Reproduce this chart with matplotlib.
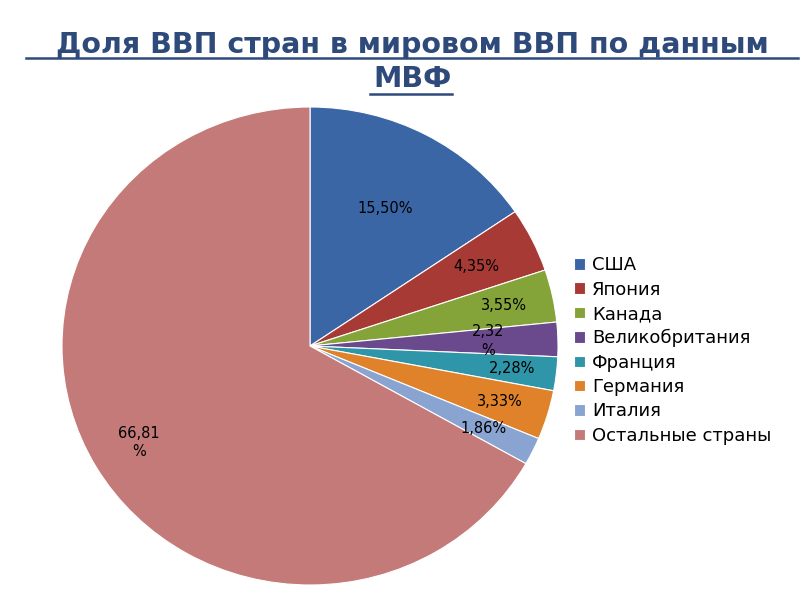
import matplotlib
matplotlib.use("Agg")
import matplotlib.pyplot as plt
import numpy as np

countries = ["США", "Япония", "Канада", "Великобритания", "Франция", "Германия", "Италия", "Остальные страны"]
shares = [15.50, 4.35, 3.55, 2.32, 2.28, 3.33, 1.86, 66.81]
labels = ["15,50%", "4,35%", "3,55%", "2,32\n%", "2,28%", "3,33%", "1,86%", "66,81\n%"]
colors = ["#3a66a6", "#a83a36", "#84a43a", "#6a4a8c", "#2e96a8", "#e0822a", "#8aa4d2", "#c47a78"]

plt.rcParams['font.family'] = ['DejaVu Sans']
fig = plt.figure(figsize=(8, 6), dpi=100)
ax = fig.add_axes([62/800, 15/600, 496/800, 478/600])
wedges, texts = ax.pie(shares, colors=colors, startangle=90, counterclock=False,
                       wedgeprops=dict(edgecolor="white", linewidth=0.8))
ax.set_aspect('auto')
ax.set_xlim(-1, 1); ax.set_ylim(-1, 1)
dists = [0.65, 0.75, 0.8, 0.72, 0.82, 0.8, 0.78, 0.8]
for w, lab, d in zip(wedges, labels, dists):
    ang = np.deg2rad((w.theta1 + w.theta2) / 2)
    ax.text(d*np.cos(ang), d*np.sin(ang), lab, ha='center', va='center', fontsize=10.5,
            color='black', linespacing=1.3)

fig.text(0.515, 0.925, "Доля ВВП стран в мировом ВВП по данным", ha='center', va='center',
         fontsize=20.5, fontweight='bold', color='#2e4a7a')
fig.text(0.515, 0.868, "МВФ", ha='center', va='center', fontsize=20.5, fontweight='bold', color='#2e4a7a')
fig.add_artist(plt.Line2D([26/800, 798/800], [1-58/600]*2, color='#2e4a7a', lw=1.8))
fig.add_artist(plt.Line2D([370/800, 452/800], [1-94/600]*2, color='#2e4a7a', lw=1.8))

fig.legend(wedges, countries, loc='upper left', bbox_to_anchor=(558/800, 1-240/600), frameon=False,
           fontsize=13, handlelength=0.6, handleheight=0.6, handletextpad=0.4, labelspacing=0.35)
fig.savefig("out.png", dpi=100)
